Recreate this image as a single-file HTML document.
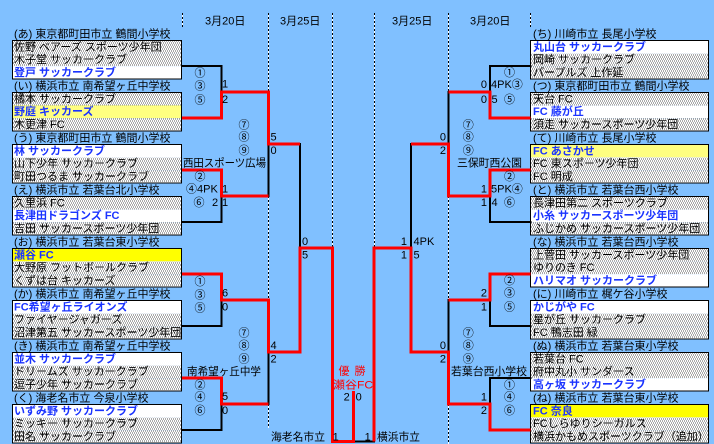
<!DOCTYPE html>
<html><head><meta charset="utf-8"><style>
html,body{margin:0;padding:0;background:#80C0FF;}
svg{display:block;}
text{font-family:"Liberation Sans","Noto Sans CJK JP",sans-serif;font-size:11px;fill:#000;}
.b{fill:#1a33ff;font-weight:bold;}
.r{fill:#ff0000;}
.m{text-anchor:middle;}
.e{text-anchor:end;}
</style></head><body>
<svg width="714" height="444" viewBox="0 0 714 444" xmlns="http://www.w3.org/2000/svg">
<defs>
<pattern id="dots" width="4" height="4" patternUnits="userSpaceOnUse">
<rect width="4" height="4" fill="#fff"/>
<rect x="0" y="0" width="1" height="1" fill="#555"/>
<rect x="2" y="0" width="1" height="1" fill="#555"/>
<rect x="1" y="2" width="1" height="1" fill="#555"/>
<rect x="3" y="2" width="1" height="1" fill="#555"/>
</pattern>
</defs>
<rect width="714" height="444" fill="#80C0FF"/>

<!-- dotted separators -->
<g stroke-width="1" shape-rendering="crispEdges">
<g stroke="#fff">
<line x1="182.5" y1="13" x2="182.5" y2="27"/>
<line x1="268.5" y1="13" x2="268.5" y2="92"/><line x1="268.5" y1="196" x2="268.5" y2="300"/><line x1="268.5" y1="404" x2="268.5" y2="428"/>
<line x1="332.5" y1="13" x2="332.5" y2="248"/>
<line x1="374.5" y1="13" x2="374.5" y2="248"/>
<line x1="448.5" y1="13" x2="448.5" y2="92"/><line x1="448.5" y1="196" x2="448.5" y2="300"/><line x1="448.5" y1="404" x2="448.5" y2="444"/>
<line x1="530.5" y1="13" x2="530.5" y2="27"/>
</g>
<g stroke="#000" stroke-dasharray="2 2">
<line x1="182.5" y1="13" x2="182.5" y2="27"/>
<line x1="268.5" y1="13" x2="268.5" y2="92"/><line x1="268.5" y1="196" x2="268.5" y2="300"/><line x1="268.5" y1="404" x2="268.5" y2="428"/>
<line x1="332.5" y1="13" x2="332.5" y2="248"/>
<line x1="374.5" y1="13" x2="374.5" y2="248"/>
<line x1="448.5" y1="13" x2="448.5" y2="92"/><line x1="448.5" y1="196" x2="448.5" y2="300"/><line x1="448.5" y1="404" x2="448.5" y2="444"/>
<line x1="530.5" y1="13" x2="530.5" y2="27"/>
</g>
</g>

<!-- headers -->
<text x="205" y="24.7">3月20日</text>
<text x="280" y="24.7">3月25日</text>
<text x="392" y="24.7">3月25日</text>
<text x="470" y="24.7">3月20日</text>

<!-- LEFT BOXES -->
<g transform="translate(0,40.5)">
<text x="14" y="-2.8">(あ) 東京都町田市立 鶴間小学校</text>
<rect x="12.5" y="0" width="169" height="12.9" fill="url(#dots)"/><rect x="12.5" y="12.87" width="169" height="12.9" fill="url(#dots)"/><rect x="12.5" y="25.74" width="169" height="12.76" fill="#fff"/>
<rect x="12.5" y="0" width="169" height="38.5" fill="none" stroke="#000"/>
<text x="14" y="9.8">佐野 ベアーズ スポーツ少年団</text><text x="14" y="22.67">木子堂 サッカークラブ</text><text x="14" y="35.54" class="b">登戸 サッカークラブ</text>
</g>
<g transform="translate(0,92.5)">
<text x="14" y="-2.8">(い) 横浜市立 南希望ヶ丘中学校</text>
<rect x="12.5" y="0" width="169" height="12.9" fill="url(#dots)"/><rect x="12.5" y="12.87" width="169" height="12.9" fill="#ffff80"/><rect x="12.5" y="25.74" width="169" height="12.76" fill="url(#dots)"/>
<rect x="12.5" y="0" width="169" height="38.5" fill="none" stroke="#000"/>
<text x="14" y="9.8">橘本 サッカークラブ</text><text x="14" y="22.67" class="b">野庭 キッカーズ</text><text x="14" y="35.54">木更津 FC</text>
</g>
<g transform="translate(0,144.5)">
<text x="14" y="-2.8">(う) 東京都町田市立 鶴間小学校</text>
<rect x="12.5" y="0" width="169" height="12.9" fill="#fff"/><rect x="12.5" y="12.87" width="169" height="12.9" fill="url(#dots)"/><rect x="12.5" y="25.74" width="169" height="12.76" fill="url(#dots)"/>
<rect x="12.5" y="0" width="169" height="38.5" fill="none" stroke="#000"/>
<text x="14" y="9.8" class="b">林 サッカークラブ</text><text x="14" y="22.67">山下少年 サッカークラブ</text><text x="14" y="35.54">町田つるま サッカークラブ</text>
</g>
<g transform="translate(0,196.5)">
<text x="14" y="-2.8">(え) 横浜市立 若葉台北小学校</text>
<rect x="12.5" y="0" width="169" height="12.9" fill="url(#dots)"/><rect x="12.5" y="12.87" width="169" height="12.9" fill="#fff"/><rect x="12.5" y="25.74" width="169" height="12.76" fill="url(#dots)"/>
<rect x="12.5" y="0" width="169" height="38.5" fill="none" stroke="#000"/>
<text x="14" y="9.8">久里浜 FC</text><text x="14" y="22.67" class="b">長津田ドラゴンズ FC</text><text x="14" y="35.54">吉田 サッカースポーツ少年団</text>
</g>
<g transform="translate(0,248.5)">
<text x="14" y="-2.8">(お) 横浜市立 若葉台東小学校</text>
<rect x="12.5" y="0" width="169" height="12.9" fill="#ffff00"/><rect x="12.5" y="12.87" width="169" height="12.9" fill="url(#dots)"/><rect x="12.5" y="25.74" width="169" height="12.76" fill="url(#dots)"/>
<rect x="12.5" y="0" width="169" height="38.5" fill="none" stroke="#000"/>
<text x="14" y="9.8" class="b">瀬谷 FC</text><text x="14" y="22.67">大野原 フットボールクラブ</text><text x="14" y="35.54">くずは台 キッカーズ</text>
</g>
<g transform="translate(0,300.5)">
<text x="14" y="-2.8">(か) 横浜市立 南希望ヶ丘中学校</text>
<rect x="12.5" y="0" width="169" height="12.9" fill="#fff"/><rect x="12.5" y="12.87" width="169" height="12.9" fill="url(#dots)"/><rect x="12.5" y="25.74" width="169" height="12.76" fill="url(#dots)"/>
<rect x="12.5" y="0" width="169" height="38.5" fill="none" stroke="#000"/>
<text x="14" y="9.8" class="b">FC希望ヶ丘ライオンズ</text><text x="14" y="22.67">ファイヤージャガーズ</text><text x="14" y="35.54">沼津第五 サッカースポーツ少年団</text>
</g>
<g transform="translate(0,352.5)">
<text x="14" y="-2.8">(き) 横浜市立 南希望ヶ丘中学校</text>
<rect x="12.5" y="0" width="169" height="12.9" fill="#fff"/><rect x="12.5" y="12.87" width="169" height="12.9" fill="url(#dots)"/><rect x="12.5" y="25.74" width="169" height="12.76" fill="url(#dots)"/>
<rect x="12.5" y="0" width="169" height="38.5" fill="none" stroke="#000"/>
<text x="14" y="9.8" class="b">並木 サッカークラブ</text><text x="14" y="22.67">ドリームズ サッカークラブ</text><text x="14" y="35.54">逗子少年 サッカークラブ</text>
</g>
<g transform="translate(0,404.5)">
<text x="14" y="-2.8">(く) 海老名市立 今泉小学校</text>
<rect x="12.5" y="0" width="169" height="12.9" fill="#fff"/><rect x="12.5" y="12.87" width="169" height="12.9" fill="url(#dots)"/><rect x="12.5" y="25.74" width="169" height="12.76" fill="url(#dots)"/>
<rect x="12.5" y="0" width="169" height="38.5" fill="none" stroke="#000"/>
<text x="14" y="9.8" class="b">いずみ野 サッカークラブ</text><text x="14" y="22.67">ミッキー サッカークラブ</text><text x="14" y="35.54">田名 サッカークラブ</text>
</g>

<!-- RIGHT BOXES -->
<g transform="translate(0,40.5)">
<text x="533" y="-2.8">(ち) 川崎市立 長尾小学校</text>
<rect x="530.5" y="0" width="178" height="12.9" fill="#fff"/><rect x="530.5" y="12.87" width="178" height="12.9" fill="url(#dots)"/><rect x="530.5" y="25.74" width="178" height="12.76" fill="url(#dots)"/>
<rect x="530.5" y="0" width="178" height="38.5" fill="none" stroke="#000"/>
<text x="533" y="9.8" class="b">丸山台 サッカークラブ</text><text x="533" y="22.67">岡崎 サッカークラブ</text><text x="533" y="35.54">パープルズ 上作延</text>
</g>
<g transform="translate(0,92.5)">
<text x="533" y="-2.8">(つ) 東京都町田市立 鶴間小学校</text>
<rect x="530.5" y="0" width="178" height="12.9" fill="url(#dots)"/><rect x="530.5" y="12.87" width="178" height="12.9" fill="#fff"/><rect x="530.5" y="25.74" width="178" height="12.76" fill="url(#dots)"/>
<rect x="530.5" y="0" width="178" height="38.5" fill="none" stroke="#000"/>
<text x="533" y="9.8">天台 FC</text><text x="533" y="22.67" class="b">FC 藤が丘</text><text x="533" y="35.54">須走 サッカースポーツ少年団</text>
</g>
<g transform="translate(0,144.5)">
<text x="533" y="-2.8">(て) 川崎市立 長尾小学校</text>
<rect x="530.5" y="0" width="178" height="12.9" fill="#ffff80"/><rect x="530.5" y="12.87" width="178" height="12.9" fill="url(#dots)"/><rect x="530.5" y="25.74" width="178" height="12.76" fill="url(#dots)"/>
<rect x="530.5" y="0" width="178" height="38.5" fill="none" stroke="#000"/>
<text x="533" y="9.8" class="b">FC あさかせ</text><text x="533" y="22.67">FC 東スポーツ少年団</text><text x="533" y="35.54">FC 明成</text>
</g>
<g transform="translate(0,196.5)">
<text x="533" y="-2.8">(と) 横浜市立 若葉台西小学校</text>
<rect x="530.5" y="0" width="178" height="12.9" fill="url(#dots)"/><rect x="530.5" y="12.87" width="178" height="12.9" fill="#fff"/><rect x="530.5" y="25.74" width="178" height="12.76" fill="url(#dots)"/>
<rect x="530.5" y="0" width="178" height="38.5" fill="none" stroke="#000"/>
<text x="533" y="9.8">長津田第二 スポーツクラブ</text><text x="533" y="22.67" class="b">小糸 サッカースポーツ少年団</text><text x="533" y="35.54">ふじかめ サッカースポーツ少年団</text>
</g>
<g transform="translate(0,248.5)">
<text x="533" y="-2.8">(な) 横浜市立 若葉台西小学校</text>
<rect x="530.5" y="0" width="178" height="12.9" fill="url(#dots)"/><rect x="530.5" y="12.87" width="178" height="12.9" fill="url(#dots)"/><rect x="530.5" y="25.74" width="178" height="12.76" fill="#fff"/>
<rect x="530.5" y="0" width="178" height="38.5" fill="none" stroke="#000"/>
<text x="533" y="9.8">上菅田 サッカースポーツ少年団</text><text x="533" y="22.67">ゆりのき FC</text><text x="533" y="35.54" class="b">ハリマオ サッカークラブ</text>
</g>
<g transform="translate(0,300.5)">
<text x="533" y="-2.8">(に) 川崎市立 梶ケ谷小学校</text>
<rect x="530.5" y="0" width="178" height="12.9" fill="#fff"/><rect x="530.5" y="12.87" width="178" height="12.9" fill="url(#dots)"/><rect x="530.5" y="25.74" width="178" height="12.76" fill="url(#dots)"/>
<rect x="530.5" y="0" width="178" height="38.5" fill="none" stroke="#000"/>
<text x="533" y="9.8" class="b">かじがや FC</text><text x="533" y="22.67">星が丘 サッカークラブ</text><text x="533" y="35.54">FC 鴨志田 緑</text>
</g>
<g transform="translate(0,352.5)">
<text x="533" y="-2.8">(ぬ) 横浜市立 若葉台東小学校</text>
<rect x="530.5" y="0" width="178" height="12.9" fill="url(#dots)"/><rect x="530.5" y="12.87" width="178" height="12.9" fill="url(#dots)"/><rect x="530.5" y="25.74" width="178" height="12.76" fill="#fff"/>
<rect x="530.5" y="0" width="178" height="38.5" fill="none" stroke="#000"/>
<text x="533" y="9.8">若葉台 FC</text><text x="533" y="22.67">府中丸小 サンダース</text><text x="533" y="35.54" class="b">高ヶ坂 サッカークラブ</text>
</g>
<g transform="translate(0,404.5)">
<text x="533" y="-2.8">(ね) 横浜市立 若葉台東小学校</text>
<rect x="530.5" y="0" width="178" height="12.9" fill="#ffff00"/><rect x="530.5" y="12.87" width="178" height="12.9" fill="url(#dots)"/><rect x="530.5" y="25.74" width="178" height="12.76" fill="url(#dots)"/>
<rect x="530.5" y="0" width="178" height="38.5" fill="none" stroke="#000"/>
<text x="533" y="9.8" class="b">FC 奈良</text><text x="533" y="22.67">FCしらゆりシーガルス</text><text x="533" y="35.54">横浜かもめスポーツクラブ（追加）</text>
</g>

<!-- BLACK LINES -->
<g fill="none" stroke="#000" stroke-width="2" stroke-linejoin="miter" stroke-linecap="square" shape-rendering="crispEdges">
<polyline points="182,66 221.5,66 221.5,92"/>
<polyline points="182,222 221.5,222 221.5,196"/>
<polyline points="268.3,144 268.3,196"/>
<polyline points="182,326 221.5,326 221.5,300"/>
<polyline points="182,430 221.5,430 221.5,404"/>
<polyline points="268.3,352 268.3,404"/>
<polyline points="300,144 300,248"/>
<polyline points="353.3,441.5 374,441.5"/>
<polyline points="530.5,66 490,66 490,92"/>
<polyline points="448.3,92 448.3,144"/>
<polyline points="530.5,222 490,222 490,196"/>
<polyline points="530.5,326 490,326 490,300"/>
<polyline points="448.3,300 448.3,352"/>
<polyline points="530.5,378 490,378 490,404"/>
<polyline points="411,144 411,248"/>
</g>

<!-- RED LINES -->
<g fill="none" stroke="#ff0000" stroke-width="3" stroke-linejoin="miter" shape-rendering="crispEdges">
<polyline points="182,118 221.5,118 221.5,92 268.3,92 268.3,144 300,144"/>
<polyline points="182,170 221.5,170 221.5,196 268.3,196"/>
<polyline points="182,274 221.5,274 221.5,300 268.3,300 268.3,352 300,352 300,248 332.3,248 332.3,441.5 353.3,441.5 353.3,391"/>
<polyline points="182,378 221.5,378 221.5,404 268.3,404"/>
<polyline points="530.5,118 490,118 490,92 448.3,92"/>
<polyline points="530.5,170 490,170 490,196 448.3,196 448.3,144 411,144"/>
<polyline points="530.5,274 490,274 490,300 448.3,300"/>
<polyline points="530.5,430 490,430 490,404 448.3,404 448.3,352 411,352 411,248 374,248 374,441.5"/>
</g>

<!-- LEFT round 1 marks -->
<text x="200" y="76.3" class="m">①</text><text x="200" y="89.7" class="m">③</text><text x="200" y="103.3" class="m">⑤</text>
<text x="222" y="87.5">1</text><text x="222" y="103">2</text>
<text x="200" y="180" class="m">②</text><text x="186" y="192.7">④4PK</text><text x="199" y="206" class="m">⑥</text><text x="212" y="206">2</text>
<text x="222" y="192.7">1</text><text x="222" y="206">1</text>
<text x="200" y="285" class="m">①</text><text x="200" y="298.3" class="m">③</text><text x="200" y="311.3" class="m">⑤</text>
<text x="222" y="296.3">6</text><text x="222" y="310.7">0</text>
<text x="200" y="388.3" class="m">②</text><text x="200" y="400.7" class="m">④</text><text x="200" y="414" class="m">⑥</text>
<text x="222" y="400">5</text><text x="222" y="414">0</text>

<!-- LEFT round 2 -->
<text x="244" y="128.7" class="m">⑦</text><text x="244" y="140.3" class="m">⑧</text><text x="244" y="154" class="m">⑨</text>
<text x="270.5" y="140.3">5</text><text x="270.5" y="154">0</text>
<text x="244" y="336.7" class="m">⑦</text><text x="244" y="349" class="m">⑧</text><text x="244" y="362.7" class="m">⑨</text>
<text x="270.5" y="349">4</text><text x="270.5" y="362.7">2</text>
<text x="302" y="245">0</text><text x="302" y="258.7">5</text>

<!-- RIGHT round 1 marks -->
<text x="509.5" y="76" class="m">①</text>
<text x="487" y="88" class="e">0</text><text x="491" y="88">4PK③</text>
<text x="487" y="103" class="e">0</text><text x="491.5" y="103">5</text><text x="509.5" y="103" class="m">⑤</text>
<text x="509.5" y="180" class="m">②</text>
<text x="487" y="192.7" class="e">1</text><text x="491" y="192.7">5PK④</text>
<text x="487" y="206" class="e">1</text><text x="491.5" y="206">4</text><text x="509.5" y="206" class="m">⑥</text>
<text x="509.5" y="284" class="m">②</text><text x="509.5" y="296.3" class="m">③</text><text x="509.5" y="310.7" class="m">⑤</text>
<text x="487" y="296.3" class="e">2</text><text x="487" y="310.7" class="e">1</text>
<text x="509.5" y="388.3" class="m">①</text><text x="509.5" y="400.7" class="m">④</text><text x="509.5" y="414" class="m">⑥</text>
<text x="487" y="400.7" class="e">1</text><text x="487" y="414" class="e">2</text>

<!-- RIGHT round 2 -->
<text x="468.3" y="128.7" class="m">⑦</text><text x="468.3" y="140.3" class="m">⑧</text><text x="468.3" y="154" class="m">⑨</text>
<text x="446" y="140.3" class="e">0</text><text x="446" y="154" class="e">2</text>
<text x="468.3" y="336.7" class="m">⑦</text><text x="468.3" y="349" class="m">⑧</text><text x="468.3" y="362.7" class="m">⑨</text>
<text x="446" y="349" class="e">0</text><text x="446" y="362.7" class="e">2</text>
<text x="407" y="245" class="e">1</text><text x="413.5" y="245">4PK</text>
<text x="407" y="258.7" class="e">1</text><text x="413.5" y="258.7">5</text>

<!-- venues -->
<text x="183" y="166.7" textLength="83" lengthAdjust="spacingAndGlyphs">西田スポーツ広場</text>
<text x="187" y="375" textLength="74" lengthAdjust="spacingAndGlyphs">南希望ヶ丘中学</text>
<text x="271" y="440.5" textLength="54" lengthAdjust="spacingAndGlyphs">海老名市立</text>
<text x="377" y="440.5" textLength="43" lengthAdjust="spacingAndGlyphs">横浜市立</text>
<text x="457" y="166.7" textLength="65" lengthAdjust="spacingAndGlyphs">三保町西公園</text>
<text x="451" y="375" textLength="76" lengthAdjust="spacingAndGlyphs">若葉台西小学校</text>

<!-- final -->
<text x="344" y="374.7" class="m r">優</text><text x="360" y="374.7" class="m r">勝</text>
<text x="333" y="388.3" class="r" textLength="40" lengthAdjust="spacingAndGlyphs">瀬谷FC</text>
<text x="346.7" y="400.7" class="m">2</text><text x="358.7" y="400.7" class="m">0</text>
<text x="335.7" y="440.7" class="m">1</text><text x="367.7" y="440.7" class="m">1</text>
</svg>
</body></html>
